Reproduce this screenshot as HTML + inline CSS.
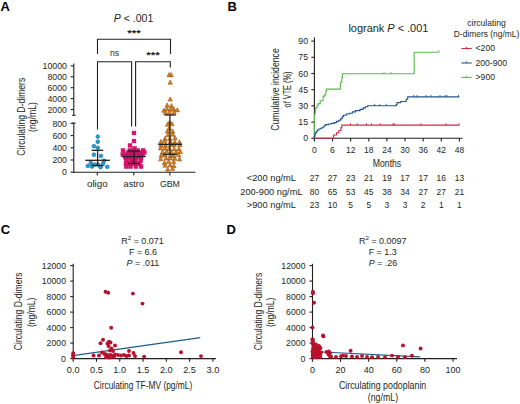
<!DOCTYPE html>
<html><head><meta charset="utf-8"><style>
html,body{margin:0;padding:0;background:#fff;overflow:hidden;}
svg{display:block;font-family:"Liberation Sans", sans-serif;}
</style></head><body>
<svg width="520" height="404" viewBox="0 0 520 404" fill="#231f20">
<rect width="520" height="404" fill="#fff"/>
<text x="0.60" y="11.00" font-size="13" fill="#000" font-weight="bold">A</text>
<text x="227.60" y="11.00" font-size="13" fill="#000" font-weight="bold">B</text>
<text x="0.80" y="234.00" font-size="13" fill="#000" font-weight="bold">C</text>
<text x="226.60" y="234.00" font-size="13" fill="#000" font-weight="bold">D</text>
<line x1="73.80" y1="63.60" x2="73.80" y2="115.30" stroke="#231f20" stroke-width="1.1"/>
<line x1="72.10" y1="115.30" x2="75.50" y2="115.30" stroke="#231f20" stroke-width="1.1"/>
<line x1="73.80" y1="123.10" x2="73.80" y2="172.70" stroke="#231f20" stroke-width="1.1"/>
<line x1="72.10" y1="123.10" x2="75.50" y2="123.10" stroke="#231f20" stroke-width="1.1"/>
<line x1="70.60" y1="65.90" x2="73.80" y2="65.90" stroke="#231f20" stroke-width="1.1"/>
<text x="67.00" y="69.10" font-size="9.0" text-anchor="end" textLength="24.4" lengthAdjust="spacingAndGlyphs">10000</text>
<line x1="70.60" y1="76.80" x2="73.80" y2="76.80" stroke="#231f20" stroke-width="1.1"/>
<text x="67.00" y="80.00" font-size="9.0" text-anchor="end" textLength="19.5" lengthAdjust="spacingAndGlyphs">8000</text>
<line x1="70.60" y1="87.70" x2="73.80" y2="87.70" stroke="#231f20" stroke-width="1.1"/>
<text x="67.00" y="90.90" font-size="9.0" text-anchor="end" textLength="19.5" lengthAdjust="spacingAndGlyphs">6000</text>
<line x1="70.60" y1="98.60" x2="73.80" y2="98.60" stroke="#231f20" stroke-width="1.1"/>
<text x="67.00" y="101.80" font-size="9.0" text-anchor="end" textLength="19.5" lengthAdjust="spacingAndGlyphs">4000</text>
<line x1="70.60" y1="109.50" x2="73.80" y2="109.50" stroke="#231f20" stroke-width="1.1"/>
<text x="67.00" y="112.70" font-size="9.0" text-anchor="end" textLength="19.5" lengthAdjust="spacingAndGlyphs">2000</text>
<line x1="70.60" y1="123.40" x2="73.80" y2="123.40" stroke="#231f20" stroke-width="1.1"/>
<text x="67.00" y="126.60" font-size="9.0" text-anchor="end" textLength="14.6" lengthAdjust="spacingAndGlyphs">800</text>
<line x1="70.60" y1="135.60" x2="73.80" y2="135.60" stroke="#231f20" stroke-width="1.1"/>
<text x="67.00" y="138.80" font-size="9.0" text-anchor="end" textLength="14.6" lengthAdjust="spacingAndGlyphs">600</text>
<line x1="70.60" y1="147.80" x2="73.80" y2="147.80" stroke="#231f20" stroke-width="1.1"/>
<text x="67.00" y="151.00" font-size="9.0" text-anchor="end" textLength="14.6" lengthAdjust="spacingAndGlyphs">400</text>
<line x1="70.60" y1="160.00" x2="73.80" y2="160.00" stroke="#231f20" stroke-width="1.1"/>
<text x="67.00" y="163.20" font-size="9.0" text-anchor="end" textLength="14.6" lengthAdjust="spacingAndGlyphs">200</text>
<line x1="70.60" y1="172.20" x2="73.80" y2="172.20" stroke="#231f20" stroke-width="1.1"/>
<text x="67.00" y="175.40" font-size="9.0" text-anchor="end" textLength="4.9" lengthAdjust="spacingAndGlyphs">0</text>
<line x1="73.30" y1="172.20" x2="195.50" y2="172.20" stroke="#231f20" stroke-width="1.1"/>
<line x1="97.30" y1="172.20" x2="97.30" y2="175.60" stroke="#231f20" stroke-width="1.1"/>
<text x="97.30" y="186.90" font-size="9.6" text-anchor="middle" textLength="20.7" lengthAdjust="spacingAndGlyphs">oligo</text>
<line x1="133.80" y1="172.20" x2="133.80" y2="175.60" stroke="#231f20" stroke-width="1.1"/>
<text x="133.80" y="186.90" font-size="9.6" text-anchor="middle" textLength="20.5" lengthAdjust="spacingAndGlyphs">astro</text>
<line x1="169.90" y1="172.20" x2="169.90" y2="175.60" stroke="#231f20" stroke-width="1.1"/>
<text x="169.90" y="186.90" font-size="9.6" text-anchor="middle" textLength="20" lengthAdjust="spacingAndGlyphs">GBM</text>
<text x="0" y="0" font-size="10" text-anchor="middle" textLength="78" lengthAdjust="spacingAndGlyphs" transform="translate(25.00,116.70) rotate(-90)">Circulating D-dimers</text>
<text x="0" y="0" font-size="10" text-anchor="middle" textLength="30" lengthAdjust="spacingAndGlyphs" transform="translate(36.20,117.00) rotate(-90)">(ng/mL)</text>
<text x="133.50" y="22.00" font-size="11.2" text-anchor="middle" textLength="39.5" lengthAdjust="spacingAndGlyphs"><tspan font-style="italic">P</tspan> &lt; .001</text>
<path d="M97.5,54 V39.3 H170.5 V54" stroke="#231f20" stroke-width="1.1" fill="none"/>
<text x="133.90" y="35.50" font-size="9.5" text-anchor="middle" textLength="13.5" lengthAdjust="spacingAndGlyphs" font-weight="bold">***</text>
<path d="M97.5,129.5 V61.8 H131.6 V126.5" stroke="#231f20" stroke-width="1.1" fill="none"/>
<path d="M135.6,126.5 V61.8 H170.3 V67.5" stroke="#231f20" stroke-width="1.1" fill="none"/>
<text x="114.50" y="56.30" font-size="9.5" text-anchor="middle" textLength="9" lengthAdjust="spacingAndGlyphs">ns</text>
<text x="153.00" y="58.00" font-size="9.5" text-anchor="middle" textLength="13.5" lengthAdjust="spacingAndGlyphs" font-weight="bold">***</text>
<circle cx="97.8" cy="136.6" r="1.9" fill="#239ccf" stroke="#16729f" stroke-width="0.6"/>
<circle cx="97.8" cy="141.75" r="1.9" fill="#239ccf" stroke="#16729f" stroke-width="0.6"/>
<circle cx="93.9" cy="146.2" r="1.9" fill="#239ccf" stroke="#16729f" stroke-width="0.6"/>
<circle cx="97.8" cy="147.8" r="1.9" fill="#239ccf" stroke="#16729f" stroke-width="0.6"/>
<circle cx="93.9" cy="154.7" r="1.9" fill="#239ccf" stroke="#16729f" stroke-width="0.6"/>
<circle cx="101" cy="155.9" r="1.9" fill="#239ccf" stroke="#16729f" stroke-width="0.6"/>
<circle cx="104" cy="160.7" r="1.9" fill="#239ccf" stroke="#16729f" stroke-width="0.6"/>
<circle cx="90.8" cy="162.9" r="1.9" fill="#239ccf" stroke="#16729f" stroke-width="0.6"/>
<circle cx="94.5" cy="164.6" r="1.9" fill="#239ccf" stroke="#16729f" stroke-width="0.6"/>
<circle cx="87.8" cy="165.9" r="1.9" fill="#239ccf" stroke="#16729f" stroke-width="0.6"/>
<circle cx="100.6" cy="167.3" r="1.9" fill="#239ccf" stroke="#16729f" stroke-width="0.6"/>
<circle cx="107.3" cy="166.8" r="1.9" fill="#239ccf" stroke="#16729f" stroke-width="0.6"/>
<circle cx="97.8" cy="164.6" r="1.9" fill="#239ccf" stroke="#16729f" stroke-width="0.6"/>
<circle cx="102.9" cy="164" r="1.9" fill="#239ccf" stroke="#16729f" stroke-width="0.6"/>
<circle cx="92" cy="166.5" r="1.9" fill="#239ccf" stroke="#16729f" stroke-width="0.6"/>
<line x1="85.40" y1="160.30" x2="109.90" y2="160.30" stroke="#231f20" stroke-width="1.3"/>
<line x1="91.70" y1="150.30" x2="103.20" y2="150.30" stroke="#231f20" stroke-width="1.3"/>
<line x1="91.70" y1="165.50" x2="103.20" y2="165.50" stroke="#231f20" stroke-width="1.3"/>
<line x1="97.60" y1="150.30" x2="97.60" y2="165.50" stroke="#231f20" stroke-width="1.3"/>
<rect x="132.05" y="131.05" width="3.9" height="3.9" fill="#e0106e" stroke="#b80d5f" stroke-width="0.4"/>
<rect x="132.05" y="139.05" width="3.9" height="3.9" fill="#e0106e" stroke="#b80d5f" stroke-width="0.4"/>
<rect x="128.05" y="143.55" width="3.9" height="3.9" fill="#e0106e" stroke="#b80d5f" stroke-width="0.4"/>
<rect x="132.55" y="146.45" width="3.9" height="3.9" fill="#e0106e" stroke="#b80d5f" stroke-width="0.4"/>
<rect x="121.05" y="148.45" width="3.9" height="3.9" fill="#e0106e" stroke="#b80d5f" stroke-width="0.4"/>
<rect x="127.85" y="148.45" width="3.9" height="3.9" fill="#e0106e" stroke="#b80d5f" stroke-width="0.4"/>
<rect x="131.85" y="148.45" width="3.9" height="3.9" fill="#e0106e" stroke="#b80d5f" stroke-width="0.4"/>
<rect x="135.75" y="148.45" width="3.9" height="3.9" fill="#e0106e" stroke="#b80d5f" stroke-width="0.4"/>
<rect x="141.15" y="148.45" width="3.9" height="3.9" fill="#e0106e" stroke="#b80d5f" stroke-width="0.4"/>
<rect x="126.05" y="150.55" width="3.9" height="3.9" fill="#e0106e" stroke="#b80d5f" stroke-width="0.4"/>
<rect x="129.55" y="150.55" width="3.9" height="3.9" fill="#e0106e" stroke="#b80d5f" stroke-width="0.4"/>
<rect x="134.05" y="150.55" width="3.9" height="3.9" fill="#e0106e" stroke="#b80d5f" stroke-width="0.4"/>
<rect x="138.05" y="150.55" width="3.9" height="3.9" fill="#e0106e" stroke="#b80d5f" stroke-width="0.4"/>
<rect x="142.35" y="150.55" width="3.9" height="3.9" fill="#e0106e" stroke="#b80d5f" stroke-width="0.4"/>
<rect x="120.85" y="152.65" width="3.9" height="3.9" fill="#e0106e" stroke="#b80d5f" stroke-width="0.4"/>
<rect x="124.55" y="152.65" width="3.9" height="3.9" fill="#e0106e" stroke="#b80d5f" stroke-width="0.4"/>
<rect x="128.05" y="152.65" width="3.9" height="3.9" fill="#e0106e" stroke="#b80d5f" stroke-width="0.4"/>
<rect x="132.05" y="152.65" width="3.9" height="3.9" fill="#e0106e" stroke="#b80d5f" stroke-width="0.4"/>
<rect x="136.05" y="152.65" width="3.9" height="3.9" fill="#e0106e" stroke="#b80d5f" stroke-width="0.4"/>
<rect x="140.55" y="152.65" width="3.9" height="3.9" fill="#e0106e" stroke="#b80d5f" stroke-width="0.4"/>
<rect x="123.05" y="154.55" width="3.9" height="3.9" fill="#e0106e" stroke="#b80d5f" stroke-width="0.4"/>
<rect x="127.05" y="154.55" width="3.9" height="3.9" fill="#e0106e" stroke="#b80d5f" stroke-width="0.4"/>
<rect x="131.05" y="154.55" width="3.9" height="3.9" fill="#e0106e" stroke="#b80d5f" stroke-width="0.4"/>
<rect x="135.05" y="154.55" width="3.9" height="3.9" fill="#e0106e" stroke="#b80d5f" stroke-width="0.4"/>
<rect x="139.05" y="154.55" width="3.9" height="3.9" fill="#e0106e" stroke="#b80d5f" stroke-width="0.4"/>
<rect x="123.95" y="156.35" width="3.9" height="3.9" fill="#e0106e" stroke="#b80d5f" stroke-width="0.4"/>
<rect x="128.55" y="156.35" width="3.9" height="3.9" fill="#e0106e" stroke="#b80d5f" stroke-width="0.4"/>
<rect x="133.65" y="156.35" width="3.9" height="3.9" fill="#e0106e" stroke="#b80d5f" stroke-width="0.4"/>
<rect x="139.05" y="156.35" width="3.9" height="3.9" fill="#e0106e" stroke="#b80d5f" stroke-width="0.4"/>
<rect x="124.65" y="158.95" width="3.9" height="3.9" fill="#e0106e" stroke="#b80d5f" stroke-width="0.4"/>
<rect x="129.25" y="158.95" width="3.9" height="3.9" fill="#e0106e" stroke="#b80d5f" stroke-width="0.4"/>
<rect x="133.55" y="158.95" width="3.9" height="3.9" fill="#e0106e" stroke="#b80d5f" stroke-width="0.4"/>
<rect x="138.55" y="158.95" width="3.9" height="3.9" fill="#e0106e" stroke="#b80d5f" stroke-width="0.4"/>
<rect x="123.95" y="161.75" width="3.9" height="3.9" fill="#e0106e" stroke="#b80d5f" stroke-width="0.4"/>
<rect x="128.25" y="161.75" width="3.9" height="3.9" fill="#e0106e" stroke="#b80d5f" stroke-width="0.4"/>
<rect x="132.55" y="161.75" width="3.9" height="3.9" fill="#e0106e" stroke="#b80d5f" stroke-width="0.4"/>
<rect x="137.55" y="161.75" width="3.9" height="3.9" fill="#e0106e" stroke="#b80d5f" stroke-width="0.4"/>
<rect x="124.25" y="164.65" width="3.9" height="3.9" fill="#e0106e" stroke="#b80d5f" stroke-width="0.4"/>
<rect x="128.65" y="164.65" width="3.9" height="3.9" fill="#e0106e" stroke="#b80d5f" stroke-width="0.4"/>
<rect x="133.95" y="164.65" width="3.9" height="3.9" fill="#e0106e" stroke="#b80d5f" stroke-width="0.4"/>
<rect x="139.05" y="164.65" width="3.9" height="3.9" fill="#e0106e" stroke="#b80d5f" stroke-width="0.4"/>
<line x1="122.30" y1="156.60" x2="145.80" y2="156.60" stroke="#231f20" stroke-width="1.3"/>
<line x1="128.00" y1="151.00" x2="140.00" y2="151.00" stroke="#231f20" stroke-width="1.3"/>
<line x1="128.00" y1="163.50" x2="140.00" y2="163.50" stroke="#231f20" stroke-width="1.3"/>
<line x1="134.00" y1="151.00" x2="134.00" y2="163.50" stroke="#231f20" stroke-width="1.3"/>
<path d="M169.20,72.44 L171.45,76.71 L166.95,76.71Z" fill="#d9821c" stroke="#8a4a10" stroke-width="0.5"/>
<path d="M171.20,72.44 L173.45,76.71 L168.95,76.71Z" fill="#d9821c" stroke="#8a4a10" stroke-width="0.5"/>
<path d="M170.20,80.03 L172.45,84.31 L167.95,84.31Z" fill="#d9821c" stroke="#8a4a10" stroke-width="0.5"/>
<path d="M170.20,96.84 L172.45,101.11 L167.95,101.11Z" fill="#d9821c" stroke="#8a4a10" stroke-width="0.5"/>
<path d="M167.20,102.84 L169.45,107.11 L164.95,107.11Z" fill="#d9821c" stroke="#8a4a10" stroke-width="0.5"/>
<path d="M171.50,103.44 L173.75,107.71 L169.25,107.71Z" fill="#d9821c" stroke="#8a4a10" stroke-width="0.5"/>
<path d="M166.90,106.53 L169.15,110.81 L164.65,110.81Z" fill="#d9821c" stroke="#8a4a10" stroke-width="0.5"/>
<path d="M170.50,106.94 L172.75,111.21 L168.25,111.21Z" fill="#d9821c" stroke="#8a4a10" stroke-width="0.5"/>
<path d="M173.60,106.53 L175.85,110.81 L171.35,110.81Z" fill="#d9821c" stroke="#8a4a10" stroke-width="0.5"/>
<path d="M163.90,108.03 L166.15,112.31 L161.65,112.31Z" fill="#d9821c" stroke="#8a4a10" stroke-width="0.5"/>
<path d="M177.30,107.64 L179.55,111.91 L175.05,111.91Z" fill="#d9821c" stroke="#8a4a10" stroke-width="0.5"/>
<path d="M165.50,110.03 L167.75,114.31 L163.25,114.31Z" fill="#d9821c" stroke="#8a4a10" stroke-width="0.5"/>
<path d="M169.50,110.23 L171.75,114.51 L167.25,114.51Z" fill="#d9821c" stroke="#8a4a10" stroke-width="0.5"/>
<path d="M174.00,109.94 L176.25,114.21 L171.75,114.21Z" fill="#d9821c" stroke="#8a4a10" stroke-width="0.5"/>
<path d="M169.43,120.28 L171.68,124.55 L167.18,124.55Z" fill="#d9821c" stroke="#8a4a10" stroke-width="0.5"/>
<path d="M167.62,122.04 L169.87,126.31 L165.37,126.31Z" fill="#d9821c" stroke="#8a4a10" stroke-width="0.5"/>
<path d="M171.98,121.50 L174.23,125.78 L169.73,125.78Z" fill="#d9821c" stroke="#8a4a10" stroke-width="0.5"/>
<path d="M169.32,125.77 L171.57,130.05 L167.07,130.05Z" fill="#d9821c" stroke="#8a4a10" stroke-width="0.5"/>
<path d="M167.46,128.67 L169.71,132.94 L165.21,132.94Z" fill="#d9821c" stroke="#8a4a10" stroke-width="0.5"/>
<path d="M172.69,128.91 L174.94,133.18 L170.44,133.18Z" fill="#d9821c" stroke="#8a4a10" stroke-width="0.5"/>
<path d="M167.77,132.41 L170.02,136.69 L165.52,136.69Z" fill="#d9821c" stroke="#8a4a10" stroke-width="0.5"/>
<path d="M172.69,132.09 L174.94,136.36 L170.44,136.36Z" fill="#d9821c" stroke="#8a4a10" stroke-width="0.5"/>
<path d="M164.99,136.30 L167.24,140.58 L162.74,140.58Z" fill="#d9821c" stroke="#8a4a10" stroke-width="0.5"/>
<path d="M169.83,136.18 L172.08,140.45 L167.58,140.45Z" fill="#d9821c" stroke="#8a4a10" stroke-width="0.5"/>
<path d="M175.04,135.50 L177.29,139.77 L172.79,139.77Z" fill="#d9821c" stroke="#8a4a10" stroke-width="0.5"/>
<path d="M160.86,139.33 L163.11,143.60 L158.61,143.60Z" fill="#d9821c" stroke="#8a4a10" stroke-width="0.5"/>
<path d="M164.72,138.77 L166.97,143.04 L162.47,143.04Z" fill="#d9821c" stroke="#8a4a10" stroke-width="0.5"/>
<path d="M170.31,139.21 L172.56,143.48 L168.06,143.48Z" fill="#d9821c" stroke="#8a4a10" stroke-width="0.5"/>
<path d="M174.81,139.61 L177.06,143.89 L172.56,143.89Z" fill="#d9821c" stroke="#8a4a10" stroke-width="0.5"/>
<path d="M179.50,139.66 L181.75,143.93 L177.25,143.93Z" fill="#d9821c" stroke="#8a4a10" stroke-width="0.5"/>
<path d="M161.05,142.94 L163.30,147.21 L158.80,147.21Z" fill="#d9821c" stroke="#8a4a10" stroke-width="0.5"/>
<path d="M165.62,143.07 L167.87,147.35 L163.37,147.35Z" fill="#d9821c" stroke="#8a4a10" stroke-width="0.5"/>
<path d="M170.73,142.23 L172.98,146.51 L168.48,146.51Z" fill="#d9821c" stroke="#8a4a10" stroke-width="0.5"/>
<path d="M174.19,142.35 L176.44,146.63 L171.94,146.63Z" fill="#d9821c" stroke="#8a4a10" stroke-width="0.5"/>
<path d="M179.85,142.57 L182.10,146.85 L177.60,146.85Z" fill="#d9821c" stroke="#8a4a10" stroke-width="0.5"/>
<path d="M160.68,145.84 L162.93,150.11 L158.43,150.11Z" fill="#d9821c" stroke="#8a4a10" stroke-width="0.5"/>
<path d="M165.01,145.92 L167.26,150.20 L162.76,150.20Z" fill="#d9821c" stroke="#8a4a10" stroke-width="0.5"/>
<path d="M169.29,146.12 L171.54,150.40 L167.04,150.40Z" fill="#d9821c" stroke="#8a4a10" stroke-width="0.5"/>
<path d="M174.12,146.44 L176.37,150.71 L171.87,150.71Z" fill="#d9821c" stroke="#8a4a10" stroke-width="0.5"/>
<path d="M178.75,146.46 L181.00,150.74 L176.50,150.74Z" fill="#d9821c" stroke="#8a4a10" stroke-width="0.5"/>
<path d="M162.50,149.93 L164.75,154.20 L160.25,154.20Z" fill="#d9821c" stroke="#8a4a10" stroke-width="0.5"/>
<path d="M166.74,149.10 L168.99,153.37 L164.49,153.37Z" fill="#d9821c" stroke="#8a4a10" stroke-width="0.5"/>
<path d="M171.50,149.90 L173.75,154.17 L169.25,154.17Z" fill="#d9821c" stroke="#8a4a10" stroke-width="0.5"/>
<path d="M176.07,149.50 L178.32,153.78 L173.82,153.78Z" fill="#d9821c" stroke="#8a4a10" stroke-width="0.5"/>
<path d="M180.30,149.15 L182.55,153.42 L178.05,153.42Z" fill="#d9821c" stroke="#8a4a10" stroke-width="0.5"/>
<path d="M161.26,152.91 L163.51,157.18 L159.01,157.18Z" fill="#d9821c" stroke="#8a4a10" stroke-width="0.5"/>
<path d="M165.00,152.40 L167.25,156.67 L162.75,156.67Z" fill="#d9821c" stroke="#8a4a10" stroke-width="0.5"/>
<path d="M170.30,153.32 L172.55,157.60 L168.05,157.60Z" fill="#d9821c" stroke="#8a4a10" stroke-width="0.5"/>
<path d="M173.72,153.14 L175.97,157.41 L171.47,157.41Z" fill="#d9821c" stroke="#8a4a10" stroke-width="0.5"/>
<path d="M178.67,152.49 L180.92,156.76 L176.42,156.76Z" fill="#d9821c" stroke="#8a4a10" stroke-width="0.5"/>
<path d="M160.71,156.50 L162.96,160.78 L158.46,160.78Z" fill="#d9821c" stroke="#8a4a10" stroke-width="0.5"/>
<path d="M166.02,155.78 L168.27,160.05 L163.77,160.05Z" fill="#d9821c" stroke="#8a4a10" stroke-width="0.5"/>
<path d="M170.16,155.78 L172.41,160.05 L167.91,160.05Z" fill="#d9821c" stroke="#8a4a10" stroke-width="0.5"/>
<path d="M174.81,156.07 L177.06,160.34 L172.56,160.34Z" fill="#d9821c" stroke="#8a4a10" stroke-width="0.5"/>
<path d="M179.53,156.72 L181.78,160.99 L177.28,160.99Z" fill="#d9821c" stroke="#8a4a10" stroke-width="0.5"/>
<path d="M164.51,160.13 L166.76,164.41 L162.26,164.41Z" fill="#d9821c" stroke="#8a4a10" stroke-width="0.5"/>
<path d="M168.73,159.21 L170.98,163.49 L166.48,163.49Z" fill="#d9821c" stroke="#8a4a10" stroke-width="0.5"/>
<path d="M173.64,159.17 L175.89,163.44 L171.39,163.44Z" fill="#d9821c" stroke="#8a4a10" stroke-width="0.5"/>
<path d="M165.08,162.94 L167.33,167.22 L162.83,167.22Z" fill="#d9821c" stroke="#8a4a10" stroke-width="0.5"/>
<path d="M170.15,162.69 L172.40,166.97 L167.90,166.97Z" fill="#d9821c" stroke="#8a4a10" stroke-width="0.5"/>
<path d="M173.86,163.40 L176.11,167.68 L171.61,167.68Z" fill="#d9821c" stroke="#8a4a10" stroke-width="0.5"/>
<path d="M167.74,166.89 L169.99,171.17 L165.49,171.17Z" fill="#d9821c" stroke="#8a4a10" stroke-width="0.5"/>
<path d="M172.56,166.31 L174.81,170.59 L170.31,170.59Z" fill="#d9821c" stroke="#8a4a10" stroke-width="0.5"/>
<line x1="164.50" y1="115.00" x2="175.80" y2="115.00" stroke="#231f20" stroke-width="1.3"/>
<line x1="158.20" y1="144.40" x2="182.10" y2="144.40" stroke="#231f20" stroke-width="1.3"/>
<line x1="163.00" y1="154.40" x2="177.00" y2="154.40" stroke="#231f20" stroke-width="1.3"/>
<line x1="169.90" y1="115.00" x2="169.90" y2="154.40" stroke="#231f20" stroke-width="1.3"/>
<line x1="314.40" y1="37.60" x2="314.40" y2="138.80" stroke="#231f20" stroke-width="1.1"/>
<line x1="313.90" y1="138.30" x2="462.50" y2="138.30" stroke="#231f20" stroke-width="1.1"/>
<line x1="311.30" y1="138.30" x2="314.40" y2="138.30" stroke="#231f20" stroke-width="1.1"/>
<text x="308.10" y="141.30" font-size="8.8" text-anchor="end" textLength="4.9" lengthAdjust="spacingAndGlyphs">0</text>
<line x1="311.30" y1="122.10" x2="314.40" y2="122.10" stroke="#231f20" stroke-width="1.1"/>
<text x="308.10" y="125.10" font-size="8.8" text-anchor="end" textLength="9.8" lengthAdjust="spacingAndGlyphs">15</text>
<line x1="311.30" y1="105.90" x2="314.40" y2="105.90" stroke="#231f20" stroke-width="1.1"/>
<text x="308.10" y="108.90" font-size="8.8" text-anchor="end" textLength="9.8" lengthAdjust="spacingAndGlyphs">30</text>
<line x1="311.30" y1="89.70" x2="314.40" y2="89.70" stroke="#231f20" stroke-width="1.1"/>
<text x="308.10" y="92.70" font-size="8.8" text-anchor="end" textLength="9.8" lengthAdjust="spacingAndGlyphs">45</text>
<line x1="311.30" y1="73.50" x2="314.40" y2="73.50" stroke="#231f20" stroke-width="1.1"/>
<text x="308.10" y="76.50" font-size="8.8" text-anchor="end" textLength="9.8" lengthAdjust="spacingAndGlyphs">60</text>
<line x1="311.30" y1="57.30" x2="314.40" y2="57.30" stroke="#231f20" stroke-width="1.1"/>
<text x="308.10" y="60.30" font-size="8.8" text-anchor="end" textLength="9.8" lengthAdjust="spacingAndGlyphs">75</text>
<line x1="311.30" y1="41.10" x2="314.40" y2="41.10" stroke="#231f20" stroke-width="1.1"/>
<text x="308.10" y="44.10" font-size="8.8" text-anchor="end" textLength="9.8" lengthAdjust="spacingAndGlyphs">90</text>
<line x1="314.40" y1="138.30" x2="314.40" y2="141.50" stroke="#231f20" stroke-width="1.1"/>
<text x="314.40" y="152.60" font-size="8.8" text-anchor="middle" textLength="4.8" lengthAdjust="spacingAndGlyphs">0</text>
<line x1="332.52" y1="138.30" x2="332.52" y2="141.50" stroke="#231f20" stroke-width="1.1"/>
<text x="332.52" y="152.60" font-size="8.8" text-anchor="middle" textLength="4.8" lengthAdjust="spacingAndGlyphs">6</text>
<line x1="350.65" y1="138.30" x2="350.65" y2="141.50" stroke="#231f20" stroke-width="1.1"/>
<text x="350.65" y="152.60" font-size="8.8" text-anchor="middle" textLength="9.4" lengthAdjust="spacingAndGlyphs">12</text>
<line x1="368.77" y1="138.30" x2="368.77" y2="141.50" stroke="#231f20" stroke-width="1.1"/>
<text x="368.77" y="152.60" font-size="8.8" text-anchor="middle" textLength="9.4" lengthAdjust="spacingAndGlyphs">18</text>
<line x1="386.90" y1="138.30" x2="386.90" y2="141.50" stroke="#231f20" stroke-width="1.1"/>
<text x="386.90" y="152.60" font-size="8.8" text-anchor="middle" textLength="9.4" lengthAdjust="spacingAndGlyphs">24</text>
<line x1="405.02" y1="138.30" x2="405.02" y2="141.50" stroke="#231f20" stroke-width="1.1"/>
<text x="405.02" y="152.60" font-size="8.8" text-anchor="middle" textLength="9.4" lengthAdjust="spacingAndGlyphs">30</text>
<line x1="423.15" y1="138.30" x2="423.15" y2="141.50" stroke="#231f20" stroke-width="1.1"/>
<text x="423.15" y="152.60" font-size="8.8" text-anchor="middle" textLength="9.4" lengthAdjust="spacingAndGlyphs">36</text>
<line x1="441.27" y1="138.30" x2="441.27" y2="141.50" stroke="#231f20" stroke-width="1.1"/>
<text x="441.27" y="152.60" font-size="8.8" text-anchor="middle" textLength="9.4" lengthAdjust="spacingAndGlyphs">42</text>
<line x1="459.40" y1="138.30" x2="459.40" y2="141.50" stroke="#231f20" stroke-width="1.1"/>
<text x="459.40" y="152.60" font-size="8.8" text-anchor="middle" textLength="9.4" lengthAdjust="spacingAndGlyphs">48</text>
<text x="387.00" y="167.00" font-size="10" text-anchor="middle" textLength="28.4" lengthAdjust="spacingAndGlyphs">Months</text>
<text x="0" y="0" font-size="10.3" text-anchor="middle" textLength="82.6" lengthAdjust="spacingAndGlyphs" transform="translate(279.00,89.50) rotate(-90)">Cumulative incidence</text>
<text x="0" y="0" font-size="10.3" text-anchor="middle" textLength="35.8" lengthAdjust="spacingAndGlyphs" transform="translate(291.00,89.50) rotate(-90)">of VTE (%)</text>
<text x="348.40" y="31.80" font-size="10.2" textLength="80" lengthAdjust="spacingAndGlyphs">logrank <tspan font-style="italic">P</tspan> &lt; .001</text>
<text x="486.50" y="26.20" font-size="9.2" text-anchor="middle" textLength="38.6" lengthAdjust="spacingAndGlyphs">circulating</text>
<text x="486.50" y="36.50" font-size="9.2" text-anchor="middle" textLength="65.5" lengthAdjust="spacingAndGlyphs">D-dimers (ng/mL)</text>
<line x1="461.40" y1="48.50" x2="471.70" y2="48.50" stroke="#cc2a44" stroke-width="1.1"/>
<line x1="466.50" y1="46.90" x2="466.50" y2="48.50" stroke="#cc2a44" stroke-width="0.9"/>
<text x="475.60" y="51.30" font-size="9.2" textLength="19.4" lengthAdjust="spacingAndGlyphs">&lt;200</text>
<line x1="461.40" y1="63.00" x2="471.70" y2="63.00" stroke="#1f5591" stroke-width="1.1"/>
<line x1="466.50" y1="61.40" x2="466.50" y2="63.00" stroke="#1f5591" stroke-width="0.9"/>
<text x="475.60" y="65.80" font-size="9.2" textLength="31.4" lengthAdjust="spacingAndGlyphs">200-900</text>
<line x1="461.40" y1="77.40" x2="471.70" y2="77.40" stroke="#5bb84f" stroke-width="1.1"/>
<line x1="466.50" y1="75.80" x2="466.50" y2="77.40" stroke="#5bb84f" stroke-width="0.9"/>
<text x="475.60" y="80.20" font-size="9.2" textLength="19.4" lengthAdjust="spacingAndGlyphs">&gt;900</text>
<path d="M314.4,138.3 V114 H315.3 V110 H315.8 V107.5 H317.2 V105.3 H318.3 V103.6 H320.2 V100.8 H323.1 V96.4 H324.3 V94.9 H325.8 V91.1 H326.6 V89.1 H340.5 V82.2 H341.8 V78 H342.4 V73.8 H414.2 V52.2 H439" stroke="#5bb84f" stroke-width="1.1" fill="none"/>
<path d="M314.4,138.3 V136.5 H314.9 V135 H315.3 V133.5 H315.8 V132.4 H316.6 V131.2 H317.6 V130 H318.9 V129 H320.4 V128.2 H322.2 V127.3 H324 V125.8 H325.5 V124.6 H328.4 V124 H331 V123.4 H334.3 V122.6 H336.5 V121.4 H338.8 V120.2 H340.7 V118.6 H342.3 V116.6 H343.5 V115.2 H346.2 V114 H349.2 V113.2 H352.3 V111.9 H355.4 V110.6 H360 V109.4 H363.1 V107.9 H365.4 V106.7 H367.7 V105.7 H396.2 V104.6 H397 V102.6 H400.8 V101.5 H406.2 V99.2 H407.7 V96.9 H459.4" stroke="#1f5591" stroke-width="1.1" fill="none"/>
<path d="M314.4,138.3 H333.6 V137.8 V135 H336.5 V132.8 H338.8 V130.5 H341 V127.6 H341.8 V125.1 H459.4" stroke="#cc2a44" stroke-width="1.1" fill="none"/>
<line x1="350.50" y1="125.10" x2="350.50" y2="123.20" stroke="#cc2a44" stroke-width="0.9"/>
<line x1="357.20" y1="125.10" x2="357.20" y2="123.20" stroke="#cc2a44" stroke-width="0.9"/>
<line x1="366.50" y1="125.10" x2="366.50" y2="123.20" stroke="#cc2a44" stroke-width="0.9"/>
<line x1="371.50" y1="125.10" x2="371.50" y2="123.20" stroke="#cc2a44" stroke-width="0.9"/>
<line x1="380.30" y1="125.10" x2="380.30" y2="123.20" stroke="#cc2a44" stroke-width="0.9"/>
<line x1="393.00" y1="125.10" x2="393.00" y2="123.20" stroke="#cc2a44" stroke-width="0.9"/>
<line x1="394.20" y1="125.10" x2="394.20" y2="123.20" stroke="#cc2a44" stroke-width="0.9"/>
<line x1="421.00" y1="125.10" x2="421.00" y2="123.20" stroke="#cc2a44" stroke-width="0.9"/>
<line x1="446.00" y1="125.10" x2="446.00" y2="123.20" stroke="#cc2a44" stroke-width="0.9"/>
<line x1="459.00" y1="125.10" x2="459.00" y2="123.20" stroke="#cc2a44" stroke-width="0.9"/>
<line x1="374.60" y1="105.70" x2="374.60" y2="103.80" stroke="#1f5591" stroke-width="0.9"/>
<line x1="379.70" y1="105.70" x2="379.70" y2="103.80" stroke="#1f5591" stroke-width="0.9"/>
<line x1="386.20" y1="105.70" x2="386.20" y2="103.80" stroke="#1f5591" stroke-width="0.9"/>
<line x1="413.80" y1="96.90" x2="413.80" y2="95.00" stroke="#1f5591" stroke-width="0.9"/>
<line x1="417.00" y1="96.90" x2="417.00" y2="95.00" stroke="#1f5591" stroke-width="0.9"/>
<line x1="426.00" y1="96.90" x2="426.00" y2="95.00" stroke="#1f5591" stroke-width="0.9"/>
<line x1="431.00" y1="96.90" x2="431.00" y2="95.00" stroke="#1f5591" stroke-width="0.9"/>
<line x1="440.00" y1="96.90" x2="440.00" y2="95.00" stroke="#1f5591" stroke-width="0.9"/>
<line x1="445.00" y1="96.90" x2="445.00" y2="95.00" stroke="#1f5591" stroke-width="0.9"/>
<line x1="447.00" y1="96.90" x2="447.00" y2="95.00" stroke="#1f5591" stroke-width="0.9"/>
<line x1="458.50" y1="96.90" x2="458.50" y2="95.00" stroke="#1f5591" stroke-width="0.9"/>
<line x1="384.00" y1="73.80" x2="384.00" y2="71.90" stroke="#5bb84f" stroke-width="0.9"/>
<line x1="391.00" y1="73.80" x2="391.00" y2="71.90" stroke="#5bb84f" stroke-width="0.9"/>
<line x1="439.00" y1="52.20" x2="439.00" y2="50.30" stroke="#5bb84f" stroke-width="0.9"/>
<text x="271.40" y="181.40" font-size="9.6" text-anchor="middle" textLength="49.2" lengthAdjust="spacingAndGlyphs">&lt;200 ng/mL</text>
<text x="314.40" y="181.40" font-size="9.2" text-anchor="middle" textLength="9.4" lengthAdjust="spacingAndGlyphs">27</text>
<text x="332.52" y="181.40" font-size="9.2" text-anchor="middle" textLength="9.4" lengthAdjust="spacingAndGlyphs">27</text>
<text x="350.65" y="181.40" font-size="9.2" text-anchor="middle" textLength="9.4" lengthAdjust="spacingAndGlyphs">23</text>
<text x="368.77" y="181.40" font-size="9.2" text-anchor="middle" textLength="9.4" lengthAdjust="spacingAndGlyphs">21</text>
<text x="386.90" y="181.40" font-size="9.2" text-anchor="middle" textLength="9.4" lengthAdjust="spacingAndGlyphs">19</text>
<text x="405.02" y="181.40" font-size="9.2" text-anchor="middle" textLength="9.4" lengthAdjust="spacingAndGlyphs">17</text>
<text x="423.15" y="181.40" font-size="9.2" text-anchor="middle" textLength="9.4" lengthAdjust="spacingAndGlyphs">17</text>
<text x="441.27" y="181.40" font-size="9.2" text-anchor="middle" textLength="9.4" lengthAdjust="spacingAndGlyphs">16</text>
<text x="459.40" y="181.40" font-size="9.2" text-anchor="middle" textLength="9.4" lengthAdjust="spacingAndGlyphs">13</text>
<text x="271.40" y="194.70" font-size="9.6" text-anchor="middle" textLength="62.3" lengthAdjust="spacingAndGlyphs">200-900 ng/mL</text>
<text x="314.40" y="194.70" font-size="9.2" text-anchor="middle" textLength="9.4" lengthAdjust="spacingAndGlyphs">80</text>
<text x="332.52" y="194.70" font-size="9.2" text-anchor="middle" textLength="9.4" lengthAdjust="spacingAndGlyphs">65</text>
<text x="350.65" y="194.70" font-size="9.2" text-anchor="middle" textLength="9.4" lengthAdjust="spacingAndGlyphs">53</text>
<text x="368.77" y="194.70" font-size="9.2" text-anchor="middle" textLength="9.4" lengthAdjust="spacingAndGlyphs">45</text>
<text x="386.90" y="194.70" font-size="9.2" text-anchor="middle" textLength="9.4" lengthAdjust="spacingAndGlyphs">38</text>
<text x="405.02" y="194.70" font-size="9.2" text-anchor="middle" textLength="9.4" lengthAdjust="spacingAndGlyphs">34</text>
<text x="423.15" y="194.70" font-size="9.2" text-anchor="middle" textLength="9.4" lengthAdjust="spacingAndGlyphs">27</text>
<text x="441.27" y="194.70" font-size="9.2" text-anchor="middle" textLength="9.4" lengthAdjust="spacingAndGlyphs">27</text>
<text x="459.40" y="194.70" font-size="9.2" text-anchor="middle" textLength="9.4" lengthAdjust="spacingAndGlyphs">21</text>
<text x="271.40" y="208.00" font-size="9.6" text-anchor="middle" textLength="49.2" lengthAdjust="spacingAndGlyphs">&gt;900 ng/mL</text>
<text x="314.40" y="208.00" font-size="9.2" text-anchor="middle" textLength="9.4" lengthAdjust="spacingAndGlyphs">23</text>
<text x="332.52" y="208.00" font-size="9.2" text-anchor="middle" textLength="9.4" lengthAdjust="spacingAndGlyphs">10</text>
<text x="350.65" y="208.00" font-size="9.2" text-anchor="middle" textLength="4.7" lengthAdjust="spacingAndGlyphs">5</text>
<text x="368.77" y="208.00" font-size="9.2" text-anchor="middle" textLength="4.7" lengthAdjust="spacingAndGlyphs">5</text>
<text x="386.90" y="208.00" font-size="9.2" text-anchor="middle" textLength="4.7" lengthAdjust="spacingAndGlyphs">3</text>
<text x="405.02" y="208.00" font-size="9.2" text-anchor="middle" textLength="4.7" lengthAdjust="spacingAndGlyphs">3</text>
<text x="423.15" y="208.00" font-size="9.2" text-anchor="middle" textLength="4.7" lengthAdjust="spacingAndGlyphs">2</text>
<text x="441.27" y="208.00" font-size="9.2" text-anchor="middle" textLength="4.7" lengthAdjust="spacingAndGlyphs">1</text>
<text x="459.40" y="208.00" font-size="9.2" text-anchor="middle" textLength="4.7" lengthAdjust="spacingAndGlyphs">1</text>
<line x1="73.20" y1="263.80" x2="73.20" y2="359.10" stroke="#231f20" stroke-width="1.1"/>
<line x1="72.70" y1="358.60" x2="216.00" y2="358.60" stroke="#231f20" stroke-width="1.1"/>
<line x1="70.20" y1="358.60" x2="73.20" y2="358.60" stroke="#231f20" stroke-width="1.1"/>
<text x="66.00" y="361.60" font-size="8.6" text-anchor="end" textLength="4.9" lengthAdjust="spacingAndGlyphs">0</text>
<line x1="70.20" y1="343.10" x2="73.20" y2="343.10" stroke="#231f20" stroke-width="1.1"/>
<text x="66.00" y="346.10" font-size="8.6" text-anchor="end" textLength="19.4" lengthAdjust="spacingAndGlyphs">2000</text>
<line x1="70.20" y1="327.60" x2="73.20" y2="327.60" stroke="#231f20" stroke-width="1.1"/>
<text x="66.00" y="330.60" font-size="8.6" text-anchor="end" textLength="19.4" lengthAdjust="spacingAndGlyphs">4000</text>
<line x1="70.20" y1="312.10" x2="73.20" y2="312.10" stroke="#231f20" stroke-width="1.1"/>
<text x="66.00" y="315.10" font-size="8.6" text-anchor="end" textLength="19.4" lengthAdjust="spacingAndGlyphs">6000</text>
<line x1="70.20" y1="296.60" x2="73.20" y2="296.60" stroke="#231f20" stroke-width="1.1"/>
<text x="66.00" y="299.60" font-size="8.6" text-anchor="end" textLength="19.4" lengthAdjust="spacingAndGlyphs">8000</text>
<line x1="70.20" y1="281.10" x2="73.20" y2="281.10" stroke="#231f20" stroke-width="1.1"/>
<text x="66.00" y="284.10" font-size="8.6" text-anchor="end" textLength="24.2" lengthAdjust="spacingAndGlyphs">10000</text>
<line x1="70.20" y1="265.60" x2="73.20" y2="265.60" stroke="#231f20" stroke-width="1.1"/>
<text x="66.00" y="268.60" font-size="8.6" text-anchor="end" textLength="24.2" lengthAdjust="spacingAndGlyphs">12000</text>
<line x1="73.20" y1="358.60" x2="73.20" y2="361.80" stroke="#231f20" stroke-width="1.1"/>
<text x="73.20" y="373.10" font-size="9.3" text-anchor="middle" textLength="12.8" lengthAdjust="spacingAndGlyphs">0.0</text>
<line x1="96.48" y1="358.60" x2="96.48" y2="361.80" stroke="#231f20" stroke-width="1.1"/>
<text x="96.48" y="373.10" font-size="9.3" text-anchor="middle" textLength="12.8" lengthAdjust="spacingAndGlyphs">0.5</text>
<line x1="119.76" y1="358.60" x2="119.76" y2="361.80" stroke="#231f20" stroke-width="1.1"/>
<text x="119.76" y="373.10" font-size="9.3" text-anchor="middle" textLength="12.8" lengthAdjust="spacingAndGlyphs">1.0</text>
<line x1="143.04" y1="358.60" x2="143.04" y2="361.80" stroke="#231f20" stroke-width="1.1"/>
<text x="143.04" y="373.10" font-size="9.3" text-anchor="middle" textLength="12.8" lengthAdjust="spacingAndGlyphs">1.5</text>
<line x1="166.32" y1="358.60" x2="166.32" y2="361.80" stroke="#231f20" stroke-width="1.1"/>
<text x="166.32" y="373.10" font-size="9.3" text-anchor="middle" textLength="12.8" lengthAdjust="spacingAndGlyphs">2.0</text>
<line x1="189.60" y1="358.60" x2="189.60" y2="361.80" stroke="#231f20" stroke-width="1.1"/>
<text x="189.60" y="373.10" font-size="9.3" text-anchor="middle" textLength="12.8" lengthAdjust="spacingAndGlyphs">2.5</text>
<line x1="212.88" y1="358.60" x2="212.88" y2="361.80" stroke="#231f20" stroke-width="1.1"/>
<text x="212.88" y="373.10" font-size="9.3" text-anchor="middle" textLength="12.8" lengthAdjust="spacingAndGlyphs">3.0</text>
<text x="143.00" y="388.60" font-size="10.2" text-anchor="middle" textLength="98.5" lengthAdjust="spacingAndGlyphs">Circulating TF-MV (pg/mL)</text>
<text x="0" y="0" font-size="10" text-anchor="middle" textLength="77.8" lengthAdjust="spacingAndGlyphs" transform="translate(22.30,311.30) rotate(-90)">Circulating D-dimers</text>
<text x="0" y="0" font-size="10" text-anchor="middle" textLength="29.5" lengthAdjust="spacingAndGlyphs" transform="translate(34.50,312.30) rotate(-90)">(ng/mL)</text>
<g transform="translate(142.7,0) scale(1.065,1) translate(-142.7,0)">
<text x="142.50" y="244.20" font-size="8.4" text-anchor="middle">R<tspan font-size="5.8" dy="-3.8">2</tspan><tspan dy="3.8"> = 0.071</tspan></text>
<text x="143.00" y="255.40" font-size="8.4" text-anchor="middle">F = 6.6</text>
<text x="142.90" y="265.80" font-size="8.4" text-anchor="middle"><tspan font-style="italic">P</tspan> = .011</text>
</g>
<line x1="73.00" y1="355.60" x2="200.30" y2="337.70" stroke="#1f5d84" stroke-width="1.2"/>
<circle cx="105.5" cy="291.8" r="1.95" fill="#b8102d"/>
<circle cx="108.2" cy="292.8" r="1.95" fill="#b8102d"/>
<circle cx="132.9" cy="293.6" r="1.95" fill="#b8102d"/>
<circle cx="142.5" cy="303.6" r="1.95" fill="#b8102d"/>
<circle cx="111.2" cy="327.7" r="1.95" fill="#b8102d"/>
<circle cx="103" cy="339.8" r="1.95" fill="#b8102d"/>
<circle cx="100.5" cy="343.2" r="1.95" fill="#b8102d"/>
<circle cx="109" cy="341.8" r="1.95" fill="#b8102d"/>
<circle cx="107.5" cy="343.5" r="1.95" fill="#b8102d"/>
<circle cx="110.5" cy="342.5" r="1.95" fill="#b8102d"/>
<circle cx="115" cy="345.5" r="1.95" fill="#b8102d"/>
<circle cx="108.5" cy="346" r="1.95" fill="#b8102d"/>
<circle cx="111.5" cy="348.5" r="1.95" fill="#b8102d"/>
<circle cx="113" cy="351" r="1.95" fill="#b8102d"/>
<circle cx="129" cy="351" r="1.95" fill="#b8102d"/>
<circle cx="133.5" cy="353" r="1.95" fill="#b8102d"/>
<circle cx="93.5" cy="355.5" r="1.95" fill="#b8102d"/>
<circle cx="99" cy="355.5" r="1.95" fill="#b8102d"/>
<circle cx="102" cy="352.5" r="1.95" fill="#b8102d"/>
<circle cx="104.5" cy="354" r="1.95" fill="#b8102d"/>
<circle cx="106.5" cy="354.5" r="1.95" fill="#b8102d"/>
<circle cx="108" cy="355.5" r="1.95" fill="#b8102d"/>
<circle cx="110.5" cy="355" r="1.95" fill="#b8102d"/>
<circle cx="112.5" cy="356" r="1.95" fill="#b8102d"/>
<circle cx="115" cy="354.5" r="1.95" fill="#b8102d"/>
<circle cx="118" cy="355" r="1.95" fill="#b8102d"/>
<circle cx="121" cy="355.5" r="1.95" fill="#b8102d"/>
<circle cx="124" cy="355" r="1.95" fill="#b8102d"/>
<circle cx="126.5" cy="356" r="1.95" fill="#b8102d"/>
<circle cx="129" cy="355.5" r="1.95" fill="#b8102d"/>
<circle cx="135" cy="356" r="1.95" fill="#b8102d"/>
<circle cx="106" cy="357" r="1.95" fill="#b8102d"/>
<circle cx="109.5" cy="357.5" r="1.95" fill="#b8102d"/>
<circle cx="114" cy="357" r="1.95" fill="#b8102d"/>
<circle cx="73.2" cy="353.3" r="1.95" fill="#b8102d"/>
<circle cx="73.2" cy="355.2" r="1.95" fill="#b8102d"/>
<circle cx="73.2" cy="357.0" r="1.95" fill="#b8102d"/>
<circle cx="144.1" cy="356.8" r="1.95" fill="#b8102d"/>
<circle cx="181" cy="352.3" r="1.95" fill="#b8102d"/>
<circle cx="201" cy="356.1" r="1.95" fill="#b8102d"/>
<circle cx="110" cy="350.5" r="1.95" fill="#b8102d"/>
<line x1="312.50" y1="263.80" x2="312.50" y2="359.10" stroke="#231f20" stroke-width="1.1"/>
<line x1="312.00" y1="358.60" x2="457.00" y2="358.60" stroke="#231f20" stroke-width="1.1"/>
<line x1="309.50" y1="358.60" x2="312.50" y2="358.60" stroke="#231f20" stroke-width="1.1"/>
<text x="305.50" y="361.60" font-size="8.6" text-anchor="end" textLength="4.9" lengthAdjust="spacingAndGlyphs">0</text>
<line x1="309.50" y1="343.10" x2="312.50" y2="343.10" stroke="#231f20" stroke-width="1.1"/>
<text x="305.50" y="346.10" font-size="8.6" text-anchor="end" textLength="19.4" lengthAdjust="spacingAndGlyphs">2000</text>
<line x1="309.50" y1="327.60" x2="312.50" y2="327.60" stroke="#231f20" stroke-width="1.1"/>
<text x="305.50" y="330.60" font-size="8.6" text-anchor="end" textLength="19.4" lengthAdjust="spacingAndGlyphs">4000</text>
<line x1="309.50" y1="312.10" x2="312.50" y2="312.10" stroke="#231f20" stroke-width="1.1"/>
<text x="305.50" y="315.10" font-size="8.6" text-anchor="end" textLength="19.4" lengthAdjust="spacingAndGlyphs">6000</text>
<line x1="309.50" y1="296.60" x2="312.50" y2="296.60" stroke="#231f20" stroke-width="1.1"/>
<text x="305.50" y="299.60" font-size="8.6" text-anchor="end" textLength="19.4" lengthAdjust="spacingAndGlyphs">8000</text>
<line x1="309.50" y1="281.10" x2="312.50" y2="281.10" stroke="#231f20" stroke-width="1.1"/>
<text x="305.50" y="284.10" font-size="8.6" text-anchor="end" textLength="24.2" lengthAdjust="spacingAndGlyphs">10000</text>
<line x1="309.50" y1="265.60" x2="312.50" y2="265.60" stroke="#231f20" stroke-width="1.1"/>
<text x="305.50" y="268.60" font-size="8.6" text-anchor="end" textLength="24.2" lengthAdjust="spacingAndGlyphs">12000</text>
<line x1="312.40" y1="358.60" x2="312.40" y2="361.80" stroke="#231f20" stroke-width="1.1"/>
<text x="312.40" y="373.10" font-size="9.3" text-anchor="middle" textLength="5" lengthAdjust="spacingAndGlyphs">0</text>
<line x1="340.52" y1="358.60" x2="340.52" y2="361.80" stroke="#231f20" stroke-width="1.1"/>
<text x="340.52" y="373.10" font-size="9.3" text-anchor="middle" textLength="10" lengthAdjust="spacingAndGlyphs">20</text>
<line x1="368.65" y1="358.60" x2="368.65" y2="361.80" stroke="#231f20" stroke-width="1.1"/>
<text x="368.65" y="373.10" font-size="9.3" text-anchor="middle" textLength="10" lengthAdjust="spacingAndGlyphs">40</text>
<line x1="396.77" y1="358.60" x2="396.77" y2="361.80" stroke="#231f20" stroke-width="1.1"/>
<text x="396.77" y="373.10" font-size="9.3" text-anchor="middle" textLength="10" lengthAdjust="spacingAndGlyphs">60</text>
<line x1="424.90" y1="358.60" x2="424.90" y2="361.80" stroke="#231f20" stroke-width="1.1"/>
<text x="424.90" y="373.10" font-size="9.3" text-anchor="middle" textLength="10" lengthAdjust="spacingAndGlyphs">80</text>
<line x1="453.02" y1="358.60" x2="453.02" y2="361.80" stroke="#231f20" stroke-width="1.1"/>
<text x="453.02" y="373.10" font-size="9.3" text-anchor="middle" textLength="15" lengthAdjust="spacingAndGlyphs">100</text>
<text x="382.60" y="388.60" font-size="10.4" text-anchor="middle" textLength="87.4" lengthAdjust="spacingAndGlyphs">Circulating podoplanin</text>
<text x="382.90" y="400.60" font-size="10.4" text-anchor="middle" textLength="30.4" lengthAdjust="spacingAndGlyphs">(ng/mL)</text>
<text x="0" y="0" font-size="10" text-anchor="middle" textLength="77.3" lengthAdjust="spacingAndGlyphs" transform="translate(261.80,311.50) rotate(-90)">Circulating D-dimers</text>
<text x="0" y="0" font-size="10" text-anchor="middle" textLength="29.5" lengthAdjust="spacingAndGlyphs" transform="translate(274.00,312.30) rotate(-90)">(ng/mL)</text>
<g transform="translate(382.7,0) scale(1.065,1) translate(-382.7,0)">
<text x="382.70" y="244.20" font-size="8.4" text-anchor="middle">R<tspan font-size="5.8" dy="-3.8">2</tspan><tspan dy="3.8"> = 0.0097</tspan></text>
<text x="382.70" y="255.40" font-size="8.4" text-anchor="middle">F = 1.3</text>
<text x="382.90" y="265.80" font-size="8.4" text-anchor="middle"><tspan font-style="italic">P</tspan> = .26</text>
</g>
<line x1="312.30" y1="351.50" x2="420.00" y2="356.80" stroke="#1f5d84" stroke-width="1.2"/>
<circle cx="312.90" cy="291.80" r="1.95" fill="#b8102d"/>
<circle cx="312.90" cy="293.30" r="1.95" fill="#b8102d"/>
<circle cx="314.00" cy="302.80" r="1.95" fill="#b8102d"/>
<circle cx="312.50" cy="327.40" r="1.95" fill="#b8102d"/>
<circle cx="323.40" cy="336.30" r="1.95" fill="#b8102d"/>
<circle cx="312.50" cy="339.30" r="1.95" fill="#b8102d"/>
<circle cx="312.80" cy="341.50" r="1.95" fill="#b8102d"/>
<circle cx="313.20" cy="344.00" r="1.95" fill="#b8102d"/>
<circle cx="319.30" cy="348.80" r="1.95" fill="#b8102d"/>
<circle cx="328.80" cy="351.50" r="1.95" fill="#b8102d"/>
<circle cx="350.60" cy="350.80" r="1.95" fill="#b8102d"/>
<circle cx="343.10" cy="355.60" r="1.95" fill="#b8102d"/>
<circle cx="323.00" cy="335.50" r="1.95" fill="#b8102d"/>
<circle cx="403.00" cy="345.40" r="1.95" fill="#b8102d"/>
<circle cx="420.60" cy="348.50" r="1.95" fill="#b8102d"/>
<circle cx="318.47" cy="355.66" r="1.95" fill="#b8102d"/>
<circle cx="316.76" cy="352.24" r="1.95" fill="#b8102d"/>
<circle cx="319.08" cy="354.72" r="1.95" fill="#b8102d"/>
<circle cx="318.14" cy="355.05" r="1.95" fill="#b8102d"/>
<circle cx="319.85" cy="353.99" r="1.95" fill="#b8102d"/>
<circle cx="312.93" cy="353.20" r="1.95" fill="#b8102d"/>
<circle cx="318.61" cy="356.24" r="1.95" fill="#b8102d"/>
<circle cx="313.32" cy="356.80" r="1.95" fill="#b8102d"/>
<circle cx="318.27" cy="353.99" r="1.95" fill="#b8102d"/>
<circle cx="319.46" cy="356.22" r="1.95" fill="#b8102d"/>
<circle cx="313.79" cy="355.83" r="1.95" fill="#b8102d"/>
<circle cx="316.50" cy="353.38" r="1.95" fill="#b8102d"/>
<circle cx="314.60" cy="353.21" r="1.95" fill="#b8102d"/>
<circle cx="314.79" cy="349.90" r="1.95" fill="#b8102d"/>
<circle cx="314.35" cy="356.78" r="1.95" fill="#b8102d"/>
<circle cx="318.36" cy="346.66" r="1.95" fill="#b8102d"/>
<circle cx="312.64" cy="352.03" r="1.95" fill="#b8102d"/>
<circle cx="316.27" cy="354.83" r="1.95" fill="#b8102d"/>
<circle cx="315.44" cy="354.06" r="1.95" fill="#b8102d"/>
<circle cx="317.18" cy="352.56" r="1.95" fill="#b8102d"/>
<circle cx="314.12" cy="352.84" r="1.95" fill="#b8102d"/>
<circle cx="312.76" cy="355.96" r="1.95" fill="#b8102d"/>
<circle cx="319.99" cy="353.91" r="1.95" fill="#b8102d"/>
<circle cx="313.91" cy="354.03" r="1.95" fill="#b8102d"/>
<circle cx="313.82" cy="353.86" r="1.95" fill="#b8102d"/>
<circle cx="314.65" cy="352.56" r="1.95" fill="#b8102d"/>
<circle cx="313.34" cy="355.02" r="1.95" fill="#b8102d"/>
<circle cx="314.57" cy="353.35" r="1.95" fill="#b8102d"/>
<circle cx="315.29" cy="352.82" r="1.95" fill="#b8102d"/>
<circle cx="314.47" cy="354.84" r="1.95" fill="#b8102d"/>
<circle cx="316.36" cy="351.42" r="1.95" fill="#b8102d"/>
<circle cx="316.71" cy="353.74" r="1.95" fill="#b8102d"/>
<circle cx="313.00" cy="354.74" r="1.95" fill="#b8102d"/>
<circle cx="315.80" cy="356.46" r="1.95" fill="#b8102d"/>
<circle cx="315.93" cy="348.95" r="1.95" fill="#b8102d"/>
<circle cx="314.24" cy="353.68" r="1.95" fill="#b8102d"/>
<circle cx="315.12" cy="350.96" r="1.95" fill="#b8102d"/>
<circle cx="314.19" cy="353.11" r="1.95" fill="#b8102d"/>
<circle cx="315.45" cy="354.28" r="1.95" fill="#b8102d"/>
<circle cx="313.68" cy="353.56" r="1.95" fill="#b8102d"/>
<circle cx="312.65" cy="339.92" r="1.95" fill="#b8102d"/>
<circle cx="312.72" cy="342.31" r="1.95" fill="#b8102d"/>
<circle cx="313.22" cy="344.46" r="1.95" fill="#b8102d"/>
<circle cx="314.90" cy="345.24" r="1.95" fill="#b8102d"/>
<circle cx="313.18" cy="347.69" r="1.95" fill="#b8102d"/>
<circle cx="315.33" cy="347.65" r="1.95" fill="#b8102d"/>
<circle cx="318.43" cy="346.92" r="1.95" fill="#b8102d"/>
<circle cx="313.05" cy="349.94" r="1.95" fill="#b8102d"/>
<circle cx="315.56" cy="349.62" r="1.95" fill="#b8102d"/>
<circle cx="317.79" cy="349.44" r="1.95" fill="#b8102d"/>
<circle cx="312.53" cy="351.57" r="1.95" fill="#b8102d"/>
<circle cx="315.49" cy="351.79" r="1.95" fill="#b8102d"/>
<circle cx="318.31" cy="351.55" r="1.95" fill="#b8102d"/>
<circle cx="321.00" cy="352.19" r="1.95" fill="#b8102d"/>
<circle cx="313.22" cy="354.80" r="1.95" fill="#b8102d"/>
<circle cx="315.80" cy="354.48" r="1.95" fill="#b8102d"/>
<circle cx="317.51" cy="354.65" r="1.95" fill="#b8102d"/>
<circle cx="320.27" cy="354.20" r="1.95" fill="#b8102d"/>
<circle cx="312.96" cy="356.82" r="1.95" fill="#b8102d"/>
<circle cx="315.31" cy="357.24" r="1.95" fill="#b8102d"/>
<circle cx="318.11" cy="356.64" r="1.95" fill="#b8102d"/>
<circle cx="320.35" cy="357.16" r="1.95" fill="#b8102d"/>
<circle cx="326.50" cy="352.00" r="1.95" fill="#b8102d"/>
<circle cx="328.50" cy="354.50" r="1.95" fill="#b8102d"/>
<circle cx="331.00" cy="356.50" r="1.95" fill="#b8102d"/>
<circle cx="330.00" cy="353.00" r="1.95" fill="#b8102d"/>
<circle cx="320.50" cy="348.00" r="1.95" fill="#b8102d"/>
<circle cx="319.00" cy="346.00" r="1.95" fill="#b8102d"/>
<circle cx="316.00" cy="344.50" r="1.95" fill="#b8102d"/>
<circle cx="330.00" cy="356.46" r="1.95" fill="#b8102d"/>
<circle cx="336.00" cy="357.01" r="1.95" fill="#b8102d"/>
<circle cx="341.00" cy="356.23" r="1.95" fill="#b8102d"/>
<circle cx="346.00" cy="355.96" r="1.95" fill="#b8102d"/>
<circle cx="352.00" cy="356.56" r="1.95" fill="#b8102d"/>
<circle cx="357.00" cy="357.07" r="1.95" fill="#b8102d"/>
<circle cx="362.00" cy="355.91" r="1.95" fill="#b8102d"/>
<circle cx="367.00" cy="357.03" r="1.95" fill="#b8102d"/>
<circle cx="372.00" cy="357.26" r="1.95" fill="#b8102d"/>
<circle cx="378.00" cy="357.05" r="1.95" fill="#b8102d"/>
<circle cx="385.00" cy="357.08" r="1.95" fill="#b8102d"/>
<circle cx="392.00" cy="355.61" r="1.95" fill="#b8102d"/>
<circle cx="398.00" cy="356.73" r="1.95" fill="#b8102d"/>
<circle cx="405.00" cy="357.15" r="1.95" fill="#b8102d"/>
<circle cx="412.00" cy="355.69" r="1.95" fill="#b8102d"/>
</svg>
</body></html>
